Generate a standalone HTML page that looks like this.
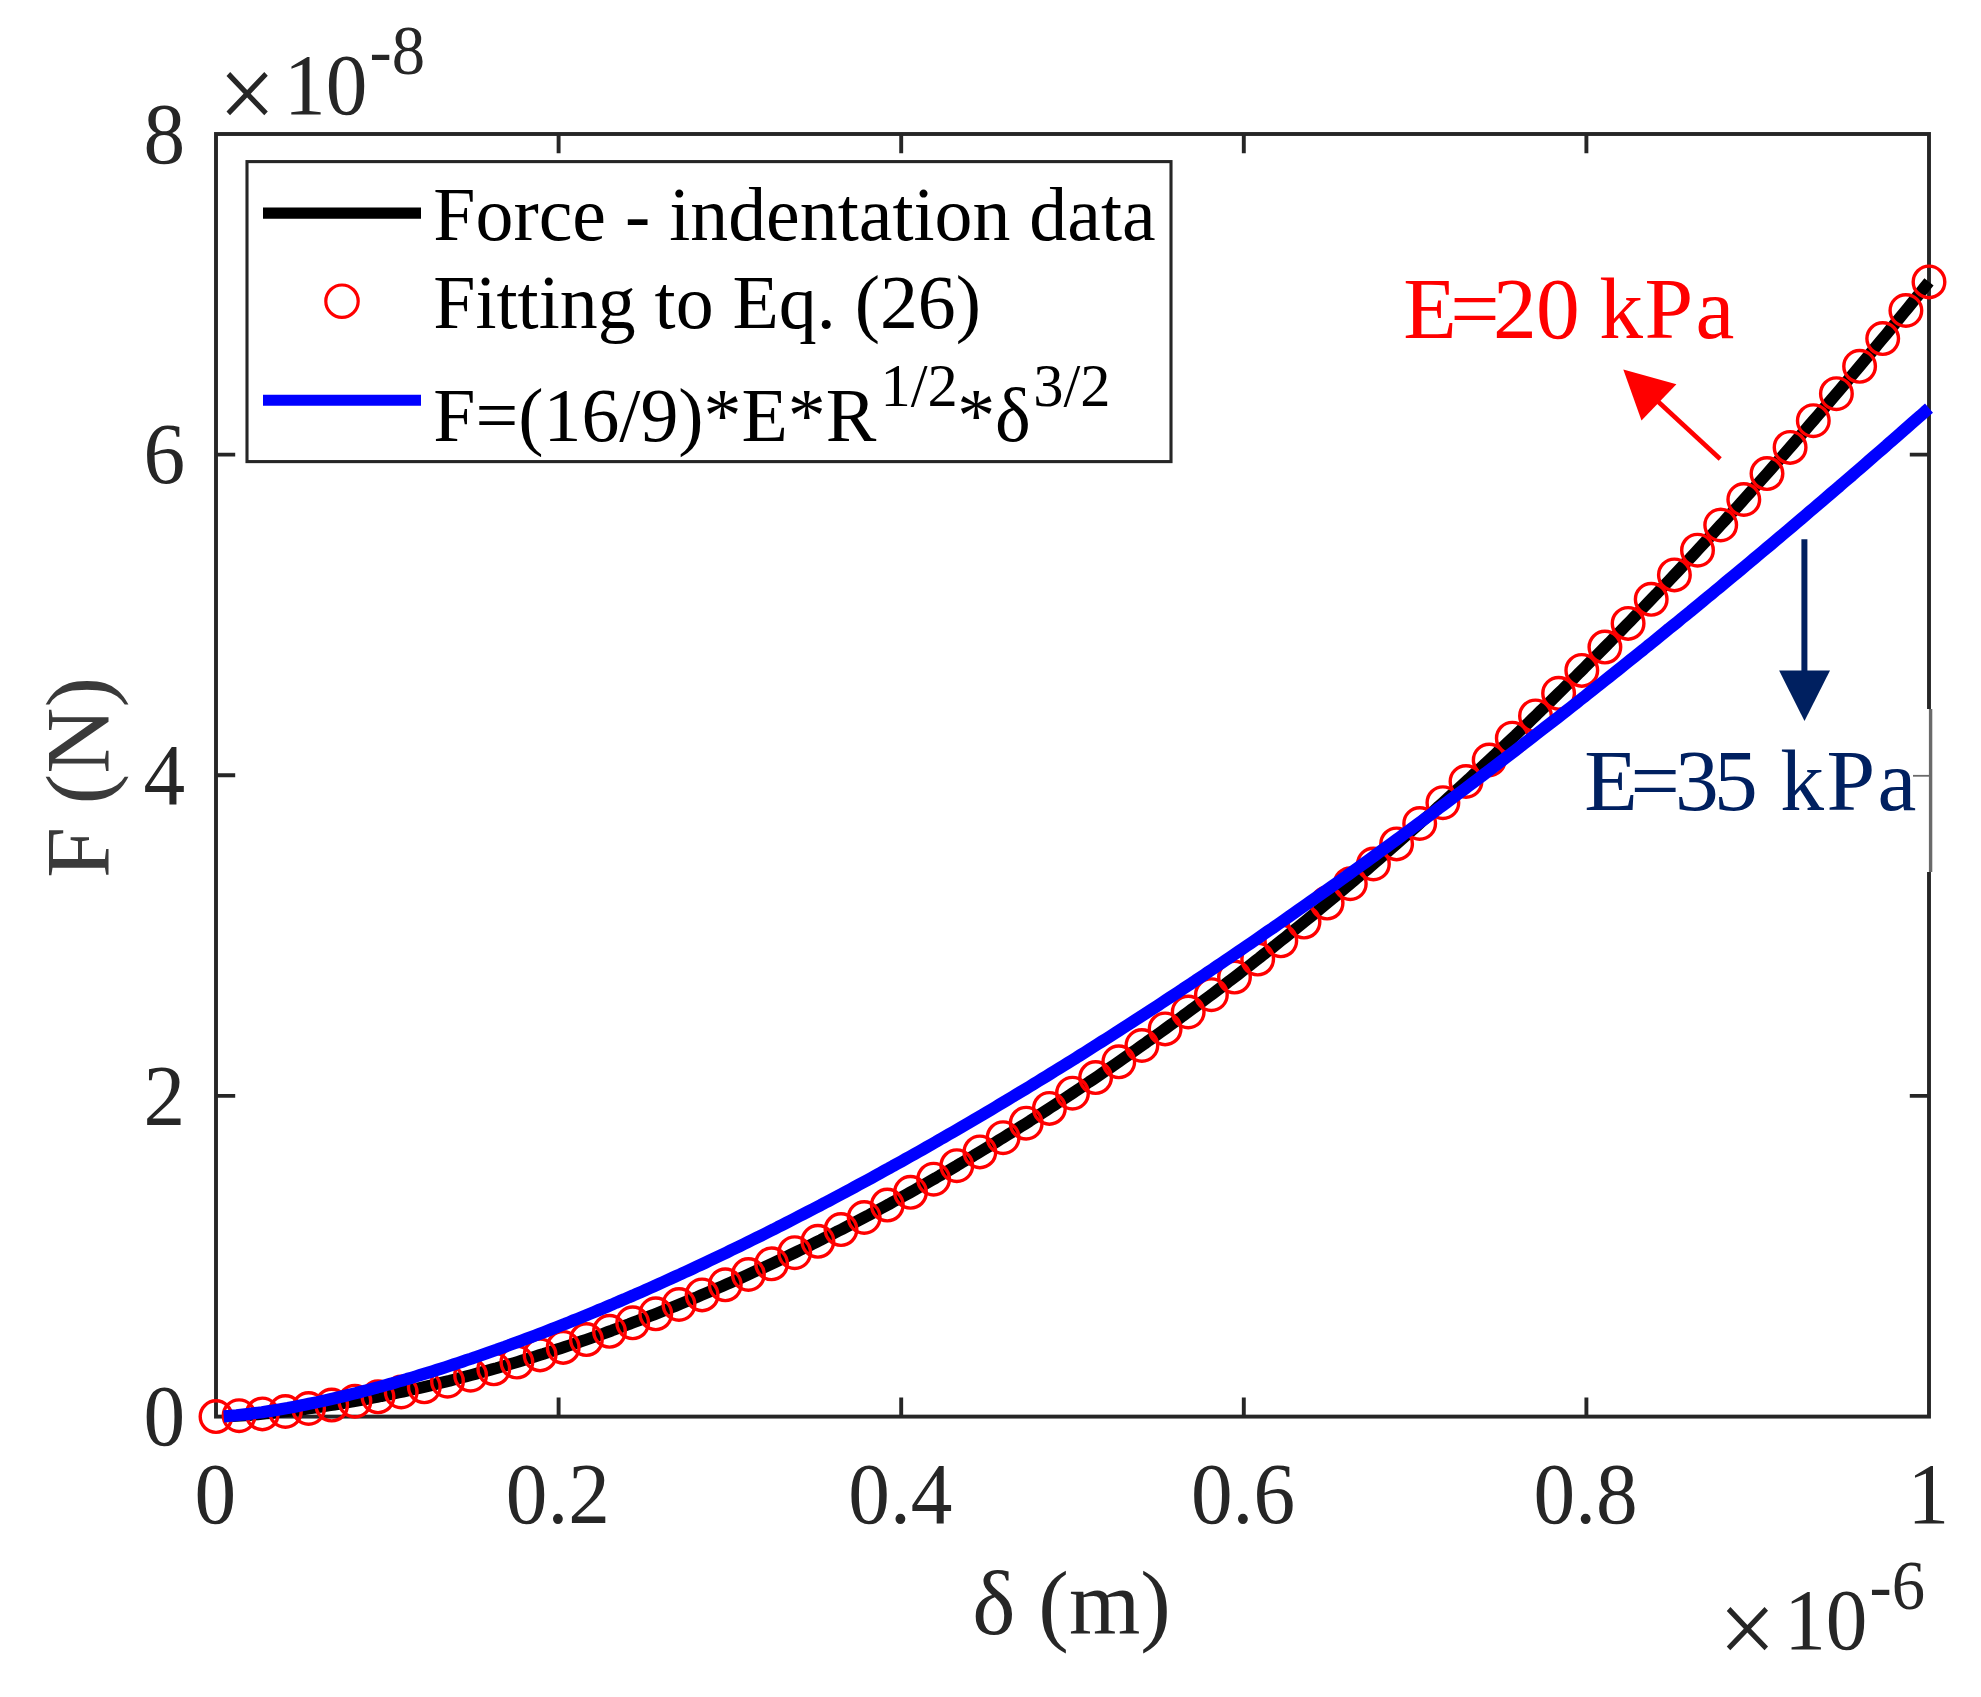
<!DOCTYPE html>
<html lang="en"><head><meta charset="utf-8"><title>Force - indentation data</title>
<style>html,body{margin:0;padding:0;background:#fff;}body{width:1981px;height:1697px;overflow:hidden;}svg{display:block;}text{font-family:"Liberation Serif","Times New Roman",serif;}</style></head><body>
<svg width="1981" height="1697" viewBox="0 0 1981 1697">
<rect x="0" y="0" width="1981" height="1697" fill="#ffffff"/>
<g stroke="#262626" stroke-width="3.9" fill="none" stroke-linecap="butt">
<rect x="216.0" y="134.0" width="1713.0" height="1282.6"/>
<path d="M558.6,1416.6 V1397.4 M558.6,134.0 V153.2"/>
<path d="M901.2,1416.6 V1397.4 M901.2,134.0 V153.2"/>
<path d="M1243.8,1416.6 V1397.4 M1243.8,134.0 V153.2"/>
<path d="M1586.4,1416.6 V1397.4 M1586.4,134.0 V153.2"/>
<path d="M216.0,1095.9 H235.2 M1929.0,1095.9 H1909.8"/>
<path d="M216.0,775.3 H235.2 M1929.0,775.3 H1909.8"/>
<path d="M216.0,454.6 H235.2 M1929.0,454.6 H1909.8"/>
</g>
<g fill="none" stroke-linejoin="round">
<path d="M223.7,1416.4 L228.0,1416.3 L232.2,1416.1 L236.5,1415.8 L240.8,1415.6 L245.0,1415.3 L249.3,1415.0 L253.6,1414.7 L257.8,1414.3 L262.1,1413.9 L266.3,1413.5 L270.6,1413.1 L274.9,1412.7 L279.1,1412.2 L283.4,1411.7 L287.7,1411.2 L291.9,1410.7 L296.2,1410.2 L300.4,1409.6 L304.7,1409.1 L309.0,1408.5 L313.2,1407.9 L317.5,1407.3 L321.8,1406.6 L326.0,1406.0 L330.3,1405.3 L334.6,1404.6 L338.8,1403.9 L343.1,1403.2 L347.3,1402.5 L351.6,1401.8 L355.9,1401.0 L360.1,1400.2 L364.4,1399.4 L368.7,1398.6 L372.9,1397.8 L377.2,1397.0 L381.4,1396.1 L385.7,1395.3 L390.0,1394.4 L394.2,1393.5 L398.5,1392.6 L402.8,1391.7 L407.0,1390.7 L411.3,1389.8 L415.6,1388.8 L419.8,1387.9 L424.1,1386.9 L428.3,1385.9 L432.6,1384.9 L436.9,1383.8 L441.1,1382.8 L445.4,1381.7 L449.7,1380.7 L453.9,1379.6 L458.2,1378.5 L462.4,1377.4 L466.7,1376.3 L471.0,1375.1 L475.2,1374.0 L479.5,1372.8 L483.8,1371.6 L488.0,1370.5 L492.3,1369.3 L496.6,1368.1 L500.8,1366.8 L505.1,1365.6 L509.3,1364.3 L513.6,1363.1 L517.9,1361.8 L522.1,1360.5 L526.4,1359.2 L530.7,1357.9 L534.9,1356.6 L539.2,1355.2 L543.5,1353.9 L547.7,1352.5 L552.0,1351.1 L556.2,1349.7 L560.5,1348.3 L564.8,1346.9 L569.0,1345.5 L573.3,1344.1 L577.6,1342.6 L581.8,1341.2 L586.1,1339.7 L590.3,1338.2 L594.6,1336.7 L598.9,1335.2 L603.1,1333.7 L607.4,1332.1 L611.7,1330.6 L615.9,1329.0 L620.2,1327.4 L624.5,1325.8 L628.7,1324.3 L633.0,1322.6 L637.2,1321.0 L641.5,1319.4 L645.8,1317.7 L650.0,1316.1 L654.3,1314.4 L658.6,1312.7 L662.8,1311.0 L667.1,1309.3 L671.3,1307.6 L675.6,1305.9 L679.9,1304.1 L684.1,1302.4 L688.4,1300.6 L692.7,1298.8 L696.9,1297.1 L701.2,1295.2 L705.5,1293.4 L709.7,1291.6 L714.0,1289.8 L718.2,1287.9 L722.5,1286.1 L726.8,1284.2 L731.0,1282.3 L735.3,1280.4 L739.6,1278.5 L743.8,1276.6 L748.1,1274.6 L752.3,1272.7 L756.6,1270.7 L760.9,1268.8 L765.1,1266.8 L769.4,1264.8 L773.7,1262.8 L777.9,1260.8 L782.2,1258.8 L786.5,1256.7 L790.7,1254.7 L795.0,1252.6 L799.2,1250.5 L803.5,1248.5 L807.8,1246.4 L812.0,1244.2 L816.3,1242.1 L820.6,1240.0 L824.8,1237.8 L829.1,1235.7 L833.4,1233.5 L837.6,1231.3 L841.9,1229.2 L846.1,1227.0 L850.4,1224.7 L854.7,1222.5 L858.9,1220.3 L863.2,1218.0 L867.5,1215.8 L871.7,1213.5 L876.0,1211.2 L880.2,1208.9 L884.5,1206.6 L888.8,1204.3 L893.0,1201.9 L897.3,1199.6 L901.6,1197.2 L905.8,1194.9 L910.1,1192.5 L914.4,1190.1 L918.6,1187.7 L922.9,1185.3 L927.1,1182.9 L931.4,1180.4 L935.7,1178.0 L939.9,1175.5 L944.2,1173.1 L948.5,1170.6 L952.7,1168.1 L957.0,1165.6 L961.2,1163.0 L965.5,1160.5 L969.8,1158.0 L974.0,1155.4 L978.3,1152.9 L982.6,1150.3 L986.8,1147.7 L991.1,1145.1 L995.4,1142.5 L999.6,1139.8 L1003.9,1137.2 L1008.1,1134.6 L1012.4,1131.9 L1016.7,1129.2 L1020.9,1126.6 L1025.2,1123.9 L1029.5,1121.2 L1033.7,1118.4 L1038.0,1115.7 L1042.2,1113.0 L1046.5,1110.2 L1050.8,1107.4 L1055.0,1104.7 L1059.3,1101.9 L1063.6,1099.1 L1067.8,1096.3 L1072.1,1093.5 L1076.4,1090.6 L1080.6,1087.8 L1084.9,1084.9 L1089.1,1082.0 L1093.4,1079.2 L1097.7,1076.3 L1101.9,1073.4 L1106.2,1070.4 L1110.5,1067.5 L1114.7,1064.6 L1119.0,1061.6 L1123.2,1058.7 L1127.5,1055.7 L1131.8,1052.7 L1136.0,1049.7 L1140.3,1046.7 L1144.6,1043.7 L1148.8,1040.6 L1153.1,1037.6 L1157.4,1034.5 L1161.6,1031.5 L1165.9,1028.4 L1170.1,1025.3 L1174.4,1022.2 L1178.7,1019.1 L1182.9,1015.9 L1187.2,1012.8 L1191.5,1009.6 L1195.7,1006.5 L1200.0,1003.3 L1204.3,1000.1 L1208.5,996.9 L1212.8,993.7 L1217.0,990.5 L1221.3,987.2 L1225.6,984.0 L1229.8,980.7 L1234.1,977.5 L1238.4,974.2 L1242.6,970.9 L1246.9,967.6 L1251.1,964.3 L1255.4,960.9 L1259.7,957.6 L1263.9,954.2 L1268.2,950.9 L1272.5,947.5 L1276.7,944.1 L1281.0,940.7 L1285.3,937.3 L1289.5,933.9 L1293.8,930.4 L1298.0,927.0 L1302.3,923.5 L1306.6,920.0 L1310.8,916.6 L1315.1,913.1 L1319.4,909.5 L1323.6,906.0 L1327.9,902.5 L1332.1,899.0 L1336.4,895.4 L1340.7,891.8 L1344.9,888.2 L1349.2,884.7 L1353.5,881.1 L1357.7,877.4 L1362.0,873.8 L1366.3,870.2 L1370.5,866.5 L1374.8,862.8 L1379.0,859.2 L1383.3,855.5 L1387.6,851.8 L1391.8,848.1 L1396.1,844.3 L1400.4,840.6 L1404.6,836.9 L1408.9,833.1 L1413.1,829.3 L1417.4,825.5 L1421.7,821.7 L1425.9,817.9 L1430.2,814.1 L1434.5,810.3 L1438.7,806.4 L1443.0,802.6 L1447.3,798.7 L1451.5,794.8 L1455.8,790.9 L1460.0,787.0 L1464.3,783.1 L1468.6,779.2 L1472.8,775.2 L1477.1,771.3 L1481.4,767.3 L1485.6,763.3 L1489.9,759.4 L1494.2,755.4 L1498.4,751.3 L1502.7,747.3 L1506.9,743.3 L1511.2,739.2 L1515.5,735.2 L1519.7,731.1 L1524.0,727.0 L1528.3,722.9 L1532.5,718.8 L1536.8,714.7 L1541.0,710.5 L1545.3,706.4 L1549.6,702.2 L1553.8,698.0 L1558.1,693.8 L1562.4,689.6 L1566.6,685.4 L1570.9,681.2 L1575.2,677.0 L1579.4,672.7 L1583.7,668.5 L1587.9,664.2 L1592.2,659.9 L1596.5,655.6 L1600.7,651.3 L1605.0,647.0 L1609.3,642.7 L1613.5,638.3 L1617.8,634.0 L1622.0,629.6 L1626.3,625.2 L1630.6,620.8 L1634.8,616.4 L1639.1,612.0 L1643.4,607.5 L1647.6,603.1 L1651.9,598.6 L1656.2,594.2 L1660.4,589.7 L1664.7,585.2 L1668.9,580.7 L1673.2,576.2 L1677.5,571.6 L1681.7,567.1 L1686.0,562.5 L1690.3,558.0 L1694.5,553.4 L1698.8,548.8 L1703.0,544.2 L1707.3,539.6 L1711.6,534.9 L1715.8,530.3 L1720.1,525.6 L1724.4,521.0 L1728.6,516.3 L1732.9,511.6 L1737.2,506.9 L1741.4,502.2 L1745.7,497.4 L1749.9,492.7 L1754.2,487.9 L1758.5,483.1 L1762.7,478.4 L1767.0,473.6 L1771.3,468.8 L1775.5,463.9 L1779.8,459.1 L1784.1,454.3 L1788.3,449.4 L1792.6,444.5 L1796.8,439.7 L1801.1,434.8 L1805.4,429.8 L1809.6,424.9 L1813.9,420.0 L1818.2,415.0 L1822.4,410.1 L1826.7,405.1 L1830.9,400.1 L1835.2,395.1 L1839.5,390.1 L1843.7,385.1 L1848.0,380.1 L1852.3,375.0 L1856.5,369.9 L1860.8,364.9 L1865.1,359.8 L1869.3,354.7 L1873.6,349.6 L1877.8,344.4 L1882.1,339.3 L1886.4,334.2 L1890.6,329.0 L1894.9,323.8 L1899.2,318.6 L1903.4,313.4 L1907.7,308.2 L1911.9,303.0 L1916.2,297.7 L1920.5,292.5 L1924.7,287.2 L1929.0,281.9" stroke="#000000" stroke-width="11.8"/>
<g stroke="#ff0000" stroke-width="3.4">
<circle cx="216.0" cy="1416.6" r="15.8"/>
<circle cx="239.1" cy="1415.7" r="15.8"/>
<circle cx="262.3" cy="1413.9" r="15.8"/>
<circle cx="285.4" cy="1411.5" r="15.8"/>
<circle cx="308.6" cy="1408.5" r="15.8"/>
<circle cx="331.7" cy="1405.1" r="15.8"/>
<circle cx="354.9" cy="1401.2" r="15.8"/>
<circle cx="378.0" cy="1396.8" r="15.8"/>
<circle cx="401.2" cy="1392.0" r="15.8"/>
<circle cx="424.3" cy="1386.8" r="15.8"/>
<circle cx="447.5" cy="1381.2" r="15.8"/>
<circle cx="470.6" cy="1375.2" r="15.8"/>
<circle cx="493.8" cy="1368.8" r="15.8"/>
<circle cx="516.9" cy="1362.1" r="15.8"/>
<circle cx="540.1" cy="1354.9" r="15.8"/>
<circle cx="563.2" cy="1347.4" r="15.8"/>
<circle cx="586.4" cy="1339.6" r="15.8"/>
<circle cx="609.5" cy="1331.3" r="15.8"/>
<circle cx="632.7" cy="1322.8" r="15.8"/>
<circle cx="655.8" cy="1313.8" r="15.8"/>
<circle cx="679.0" cy="1304.5" r="15.8"/>
<circle cx="702.1" cy="1294.9" r="15.8"/>
<circle cx="725.3" cy="1284.8" r="15.8"/>
<circle cx="748.4" cy="1274.5" r="15.8"/>
<circle cx="771.6" cy="1263.8" r="15.8"/>
<circle cx="794.7" cy="1252.7" r="15.8"/>
<circle cx="817.9" cy="1241.3" r="15.8"/>
<circle cx="841.0" cy="1229.6" r="15.8"/>
<circle cx="864.2" cy="1217.5" r="15.8"/>
<circle cx="887.3" cy="1205.1" r="15.8"/>
<circle cx="910.5" cy="1192.3" r="15.8"/>
<circle cx="933.6" cy="1179.2" r="15.8"/>
<circle cx="956.8" cy="1165.7" r="15.8"/>
<circle cx="979.9" cy="1151.9" r="15.8"/>
<circle cx="1003.1" cy="1137.7" r="15.8"/>
<circle cx="1026.2" cy="1123.2" r="15.8"/>
<circle cx="1049.4" cy="1108.4" r="15.8"/>
<circle cx="1072.5" cy="1093.2" r="15.8"/>
<circle cx="1095.6" cy="1077.6" r="15.8"/>
<circle cx="1118.8" cy="1061.8" r="15.8"/>
<circle cx="1141.9" cy="1045.5" r="15.8"/>
<circle cx="1165.1" cy="1028.9" r="15.8"/>
<circle cx="1188.2" cy="1012.0" r="15.8"/>
<circle cx="1211.4" cy="994.7" r="15.8"/>
<circle cx="1234.5" cy="977.1" r="15.8"/>
<circle cx="1257.7" cy="959.1" r="15.8"/>
<circle cx="1280.8" cy="940.8" r="15.8"/>
<circle cx="1304.0" cy="922.1" r="15.8"/>
<circle cx="1327.1" cy="903.1" r="15.8"/>
<circle cx="1350.3" cy="883.7" r="15.8"/>
<circle cx="1373.4" cy="864.0" r="15.8"/>
<circle cx="1396.6" cy="843.9" r="15.8"/>
<circle cx="1419.7" cy="823.5" r="15.8"/>
<circle cx="1442.9" cy="802.7" r="15.8"/>
<circle cx="1466.0" cy="781.5" r="15.8"/>
<circle cx="1489.2" cy="760.0" r="15.8"/>
<circle cx="1512.3" cy="738.2" r="15.8"/>
<circle cx="1535.5" cy="715.9" r="15.8"/>
<circle cx="1558.6" cy="693.3" r="15.8"/>
<circle cx="1581.8" cy="670.4" r="15.8"/>
<circle cx="1604.9" cy="647.1" r="15.8"/>
<circle cx="1628.1" cy="623.4" r="15.8"/>
<circle cx="1651.2" cy="599.3" r="15.8"/>
<circle cx="1674.4" cy="574.9" r="15.8"/>
<circle cx="1697.5" cy="550.2" r="15.8"/>
<circle cx="1720.7" cy="525.0" r="15.8"/>
<circle cx="1743.8" cy="499.5" r="15.8"/>
<circle cx="1767.0" cy="473.6" r="15.8"/>
<circle cx="1790.1" cy="447.4" r="15.8"/>
<circle cx="1813.3" cy="420.7" r="15.8"/>
<circle cx="1836.4" cy="393.7" r="15.8"/>
<circle cx="1859.6" cy="366.3" r="15.8"/>
<circle cx="1882.7" cy="338.6" r="15.8"/>
<circle cx="1905.9" cy="310.5" r="15.8"/>
<circle cx="1929.0" cy="281.9" r="15.8"/>
</g>
<path d="M223.7,1416.3 L228.0,1416.0 L232.2,1415.7 L236.5,1415.3 L240.8,1414.8 L245.0,1414.4 L249.3,1413.9 L253.6,1413.3 L257.8,1412.8 L262.1,1412.2 L266.3,1411.5 L270.6,1410.9 L274.9,1410.2 L279.1,1409.5 L283.4,1408.7 L287.7,1408.0 L291.9,1407.2 L296.2,1406.4 L300.4,1405.6 L304.7,1404.7 L309.0,1403.8 L313.2,1403.0 L317.5,1402.1 L321.8,1401.1 L326.0,1400.2 L330.3,1399.2 L334.6,1398.2 L338.8,1397.2 L343.1,1396.2 L347.3,1395.2 L351.6,1394.1 L355.9,1393.1 L360.1,1392.0 L364.4,1390.9 L368.7,1389.8 L372.9,1388.6 L377.2,1387.5 L381.4,1386.3 L385.7,1385.2 L390.0,1384.0 L394.2,1382.8 L398.5,1381.5 L402.8,1380.3 L407.0,1379.0 L411.3,1377.8 L415.6,1376.5 L419.8,1375.2 L424.1,1373.9 L428.3,1372.6 L432.6,1371.3 L436.9,1369.9 L441.1,1368.6 L445.4,1367.2 L449.7,1365.8 L453.9,1364.4 L458.2,1363.0 L462.4,1361.6 L466.7,1360.1 L471.0,1358.7 L475.2,1357.2 L479.5,1355.8 L483.8,1354.3 L488.0,1352.8 L492.3,1351.3 L496.6,1349.8 L500.8,1348.2 L505.1,1346.7 L509.3,1345.1 L513.6,1343.6 L517.9,1342.0 L522.1,1340.4 L526.4,1338.8 L530.7,1337.2 L534.9,1335.6 L539.2,1334.0 L543.5,1332.3 L547.7,1330.7 L552.0,1329.0 L556.2,1327.3 L560.5,1325.6 L564.8,1324.0 L569.0,1322.3 L573.3,1320.5 L577.6,1318.8 L581.8,1317.1 L586.1,1315.3 L590.3,1313.6 L594.6,1311.8 L598.9,1310.0 L603.1,1308.3 L607.4,1306.5 L611.7,1304.7 L615.9,1302.8 L620.2,1301.0 L624.5,1299.2 L628.7,1297.3 L633.0,1295.5 L637.2,1293.6 L641.5,1291.8 L645.8,1289.9 L650.0,1288.0 L654.3,1286.1 L658.6,1284.2 L662.8,1282.3 L667.1,1280.3 L671.3,1278.4 L675.6,1276.4 L679.9,1274.5 L684.1,1272.5 L688.4,1270.6 L692.7,1268.6 L696.9,1266.6 L701.2,1264.6 L705.5,1262.6 L709.7,1260.6 L714.0,1258.5 L718.2,1256.5 L722.5,1254.5 L726.8,1252.4 L731.0,1250.3 L735.3,1248.3 L739.6,1246.2 L743.8,1244.1 L748.1,1242.0 L752.3,1239.9 L756.6,1237.8 L760.9,1235.7 L765.1,1233.6 L769.4,1231.4 L773.7,1229.3 L777.9,1227.1 L782.2,1225.0 L786.5,1222.8 L790.7,1220.6 L795.0,1218.4 L799.2,1216.2 L803.5,1214.0 L807.8,1211.8 L812.0,1209.6 L816.3,1207.4 L820.6,1205.2 L824.8,1202.9 L829.1,1200.7 L833.4,1198.4 L837.6,1196.2 L841.9,1193.9 L846.1,1191.6 L850.4,1189.3 L854.7,1187.0 L858.9,1184.7 L863.2,1182.4 L867.5,1180.1 L871.7,1177.8 L876.0,1175.4 L880.2,1173.1 L884.5,1170.7 L888.8,1168.4 L893.0,1166.0 L897.3,1163.7 L901.6,1161.3 L905.8,1158.9 L910.1,1156.5 L914.4,1154.1 L918.6,1151.7 L922.9,1149.3 L927.1,1146.9 L931.4,1144.4 L935.7,1142.0 L939.9,1139.5 L944.2,1137.1 L948.5,1134.6 L952.7,1132.2 L957.0,1129.7 L961.2,1127.2 L965.5,1124.7 L969.8,1122.2 L974.0,1119.7 L978.3,1117.2 L982.6,1114.7 L986.8,1112.2 L991.1,1109.7 L995.4,1107.1 L999.6,1104.6 L1003.9,1102.0 L1008.1,1099.5 L1012.4,1096.9 L1016.7,1094.3 L1020.9,1091.8 L1025.2,1089.2 L1029.5,1086.6 L1033.7,1084.0 L1038.0,1081.4 L1042.2,1078.8 L1046.5,1076.2 L1050.8,1073.5 L1055.0,1070.9 L1059.3,1068.3 L1063.6,1065.6 L1067.8,1063.0 L1072.1,1060.3 L1076.4,1057.7 L1080.6,1055.0 L1084.9,1052.3 L1089.1,1049.6 L1093.4,1046.9 L1097.7,1044.2 L1101.9,1041.5 L1106.2,1038.8 L1110.5,1036.1 L1114.7,1033.4 L1119.0,1030.6 L1123.2,1027.9 L1127.5,1025.2 L1131.8,1022.4 L1136.0,1019.7 L1140.3,1016.9 L1144.6,1014.1 L1148.8,1011.4 L1153.1,1008.6 L1157.4,1005.8 L1161.6,1003.0 L1165.9,1000.2 L1170.1,997.4 L1174.4,994.6 L1178.7,991.8 L1182.9,988.9 L1187.2,986.1 L1191.5,983.3 L1195.7,980.4 L1200.0,977.6 L1204.3,974.7 L1208.5,971.8 L1212.8,969.0 L1217.0,966.1 L1221.3,963.2 L1225.6,960.3 L1229.8,957.4 L1234.1,954.5 L1238.4,951.6 L1242.6,948.7 L1246.9,945.8 L1251.1,942.9 L1255.4,940.0 L1259.7,937.0 L1263.9,934.1 L1268.2,931.1 L1272.5,928.2 L1276.7,925.2 L1281.0,922.3 L1285.3,919.3 L1289.5,916.3 L1293.8,913.3 L1298.0,910.3 L1302.3,907.3 L1306.6,904.3 L1310.8,901.3 L1315.1,898.3 L1319.4,895.3 L1323.6,892.3 L1327.9,889.2 L1332.1,886.2 L1336.4,883.2 L1340.7,880.1 L1344.9,877.1 L1349.2,874.0 L1353.5,870.9 L1357.7,867.9 L1362.0,864.8 L1366.3,861.7 L1370.5,858.6 L1374.8,855.5 L1379.0,852.4 L1383.3,849.3 L1387.6,846.2 L1391.8,843.1 L1396.1,840.0 L1400.4,836.8 L1404.6,833.7 L1408.9,830.6 L1413.1,827.4 L1417.4,824.3 L1421.7,821.1 L1425.9,818.0 L1430.2,814.8 L1434.5,811.6 L1438.7,808.4 L1443.0,805.3 L1447.3,802.1 L1451.5,798.9 L1455.8,795.7 L1460.0,792.5 L1464.3,789.3 L1468.6,786.0 L1472.8,782.8 L1477.1,779.6 L1481.4,776.4 L1485.6,773.1 L1489.9,769.9 L1494.2,766.6 L1498.4,763.4 L1502.7,760.1 L1506.9,756.9 L1511.2,753.6 L1515.5,750.3 L1519.7,747.0 L1524.0,743.7 L1528.3,740.4 L1532.5,737.2 L1536.8,733.8 L1541.0,730.5 L1545.3,727.2 L1549.6,723.9 L1553.8,720.6 L1558.1,717.3 L1562.4,713.9 L1566.6,710.6 L1570.9,707.2 L1575.2,703.9 L1579.4,700.5 L1583.7,697.2 L1587.9,693.8 L1592.2,690.4 L1596.5,687.0 L1600.7,683.7 L1605.0,680.3 L1609.3,676.9 L1613.5,673.5 L1617.8,670.1 L1622.0,666.7 L1626.3,663.3 L1630.6,659.8 L1634.8,656.4 L1639.1,653.0 L1643.4,649.6 L1647.6,646.1 L1651.9,642.7 L1656.2,639.2 L1660.4,635.8 L1664.7,632.3 L1668.9,628.8 L1673.2,625.4 L1677.5,621.9 L1681.7,618.4 L1686.0,614.9 L1690.3,611.5 L1694.5,608.0 L1698.8,604.5 L1703.0,601.0 L1707.3,597.4 L1711.6,593.9 L1715.8,590.4 L1720.1,586.9 L1724.4,583.3 L1728.6,579.8 L1732.9,576.3 L1737.2,572.7 L1741.4,569.2 L1745.7,565.6 L1749.9,562.1 L1754.2,558.5 L1758.5,554.9 L1762.7,551.4 L1767.0,547.8 L1771.3,544.2 L1775.5,540.6 L1779.8,537.0 L1784.1,533.4 L1788.3,529.8 L1792.6,526.2 L1796.8,522.6 L1801.1,519.0 L1805.4,515.3 L1809.6,511.7 L1813.9,508.1 L1818.2,504.4 L1822.4,500.8 L1826.7,497.1 L1830.9,493.5 L1835.2,489.8 L1839.5,486.2 L1843.7,482.5 L1848.0,478.8 L1852.3,475.2 L1856.5,471.5 L1860.8,467.8 L1865.1,464.1 L1869.3,460.4 L1873.6,456.7 L1877.8,453.0 L1882.1,449.3 L1886.4,445.6 L1890.6,441.8 L1894.9,438.1 L1899.2,434.4 L1903.4,430.7 L1907.7,426.9 L1911.9,423.2 L1916.2,419.4 L1920.5,415.7 L1924.7,411.9 L1929.0,408.2" stroke="#0000ff" stroke-width="12.2"/>
</g>
<rect x="1905" y="709" width="40" height="163" fill="#ffffff"/>
<g filter="url(#bl)"><path d="M1930.6,709 V872" stroke="#6a6a6a" stroke-width="3.4" fill="none"/><path d="M1913,775.8 H1930" stroke="#6a6a6a" stroke-width="1.8" fill="none"/></g>
<defs><filter id="bl" x="-50%" y="-5%" width="200%" height="110%"><feGaussianBlur stdDeviation="0.7"/></filter></defs>
<g fill="#262626">
<text transform="translate(215.2,1522.6) scale(1,1.045)" font-size="83.3" text-anchor="middle">0</text>
<text transform="translate(557.8,1522.6) scale(1,1.045)" font-size="83.3" text-anchor="middle">0.2</text>
<text transform="translate(900.4,1522.6) scale(1,1.045)" font-size="83.3" text-anchor="middle">0.4</text>
<text transform="translate(1243.0,1522.6) scale(1,1.045)" font-size="83.3" text-anchor="middle">0.6</text>
<text transform="translate(1585.6,1522.6) scale(1,1.045)" font-size="83.3" text-anchor="middle">0.8</text>
<text transform="translate(1928.2,1522.6) scale(1,1.045)" font-size="83.3" text-anchor="middle">1</text>
<text transform="translate(185.2,1445.2) scale(1,1.045)" font-size="83.3" text-anchor="end">0</text>
<text transform="translate(185.2,1124.5) scale(1,1.045)" font-size="83.3" text-anchor="end">2</text>
<text transform="translate(185.2,803.9) scale(1,1.045)" font-size="83.3" text-anchor="end">4</text>
<text transform="translate(185.2,483.2) scale(1,1.045)" font-size="83.3" text-anchor="end">6</text>
<text transform="translate(185.2,162.6) scale(1,1.045)" font-size="83.3" text-anchor="end">8</text>
<text transform="translate(226.9,113.6) scale(1,1.045)" font-size="83.3"><tspan font-size="101.5" x="-8.3" y="14.4">×</tspan><tspan x="57.2" y="0">10</tspan><tspan font-size="66.7" x="142.6" y="-38.3">-8</tspan></text>
<text transform="translate(1727.0,1649.2) scale(1,1.045)" font-size="83.3"><tspan font-size="101.5" x="-8.3" y="14.4">×</tspan><tspan x="57.2" y="0">10</tspan><tspan font-size="66.7" x="142.6" y="-38.3">-6</tspan></text>
</g>
<text x="1071.5" y="1634" font-size="91.7" fill="#262626" text-anchor="middle">δ (m)</text>
<text transform="translate(109.3,777.5) rotate(-90)" font-size="91.7" fill="#3a3a3a" text-anchor="middle">F (N)</text>
<rect x="247" y="161.6" width="924" height="300" fill="#ffffff" stroke="#262626" stroke-width="3.1"/>
<path d="M263,213.1 H421" stroke="#000" stroke-width="11.4"/>
<circle cx="342" cy="301.2" r="16.2" fill="none" stroke="#ff0000" stroke-width="3.2"/>
<path d="M263,400.2 H421" stroke="#0000ff" stroke-width="11"/>
<g fill="#000" font-size="75.85">
<text x="433.3" y="239.6">Force - indentation data</text>
<text x="433.3" y="327.9">Fitting to Eq. (26)</text>
<text x="433.3" y="440.8">F=(16/9)*E*R<tspan font-size="60.5" dy="-34.6" dx="4">1/2</tspan><tspan dy="34.6" dx="-0.5">*</tspan><tspan dx="0">δ</tspan><tspan font-size="60.5" dy="-34.6" dx="2.3">3/2</tspan></text>
</g>
<g font-size="87.5">
<text fill="#ff0000" y="337.8" x="1403.2 1450.2 1492.9 1536.1 1580 1599.3 1644.4 1695.6">E=20 kPa</text>
<text fill="#002060" y="810.2" x="1584.3 1630.6 1674.9 1714.1 1760 1780.3 1826.5 1877.6">E=35 kPa</text>
</g>
<path d="M1720.2,459 L1655,398.8" stroke="#ff0000" stroke-width="4.6" fill="none"/>
<polygon points="1623.3,369.5 1676.4,384.3 1641.5,420.6" fill="#ff0000"/>
<path d="M1804.4,539.2 V675" stroke="#002060" stroke-width="6" fill="none"/>
<polygon points="1779.1,670.4 1830,670.4 1804.5,721" fill="#002060"/>
</svg></body></html>
